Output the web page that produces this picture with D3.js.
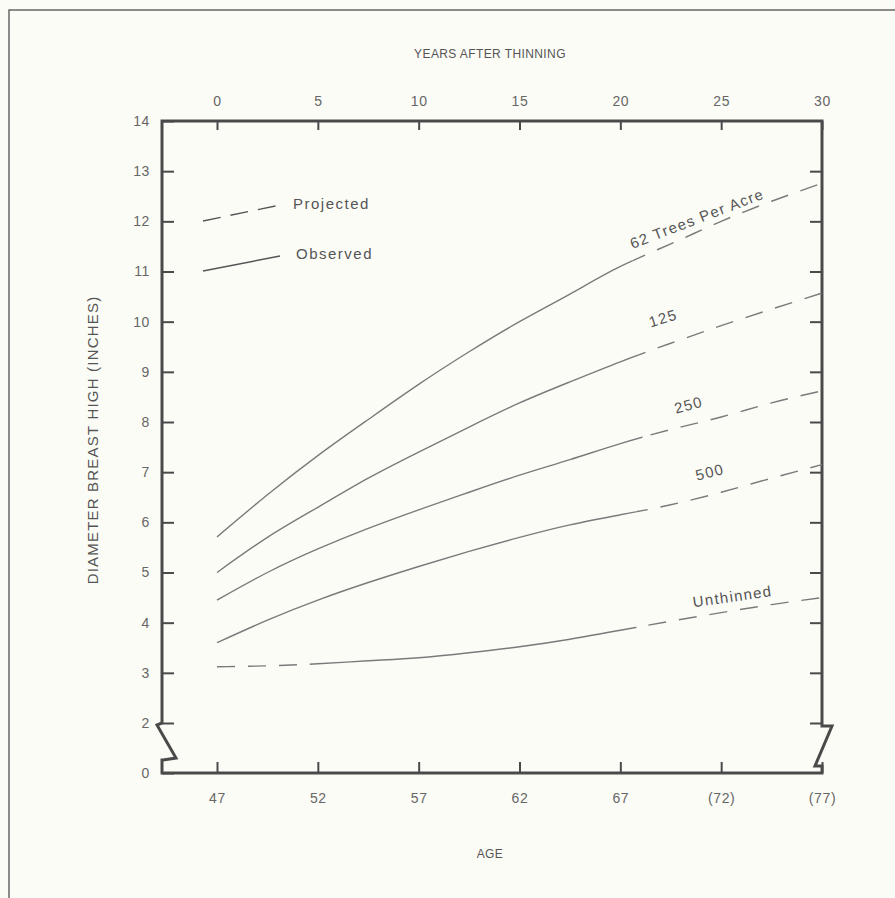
<!DOCTYPE html>
<html>
<head>
<meta charset="utf-8">
<title>Diameter breast high after thinning</title>
<style>
  body { margin: 0; background: #fcfcf7; }
  svg { display: block; }
  text { font-family: "Liberation Sans", Arial, sans-serif; fill: #555; }
  .tick line { stroke: #4a4a4a; stroke-width: 2; }
  .tick text { font-size: 14px; fill: #666; letter-spacing: 0.6px; }
</style>
</head>
<body>
<svg width="895" height="898"></svg>
<script src="https://cdn.jsdelivr.net/npm/d3@7/dist/d3.min.js"></script>
<script>
// years after thinning, read at 2.5 year steps
var years = [0, 2.5, 5, 7.5, 10, 12.5, 15, 17.5, 20, 22.5, 25, 27.5, 30];
var seriesNames = ["62 Trees Per Acre", "125", "250", "500", "Unthinned"];
var dbh62  = [5.71, 6.55, 7.33, 8.05, 8.75, 9.4, 10.0, 10.55, 11.1, 11.55, 12.0, 12.4, 12.76];
var dbh125 = [5.0, 5.7, 6.3, 6.88, 7.4, 7.9, 8.38, 8.8, 9.2, 9.57, 9.92, 10.25, 10.57];
var dbh250 = [4.45, 5.0, 5.47, 5.88, 6.25, 6.6, 6.94, 7.25, 7.57, 7.85, 8.1, 8.38, 8.62];
var dbh500 = [3.6, 4.05, 4.45, 4.8, 5.12, 5.42, 5.7, 5.95, 6.15, 6.35, 6.6, 6.88, 7.15];
var dbhUnthinned = [3.12, 3.14, 3.18, 3.24, 3.3, 3.4, 3.52, 3.67, 3.85, 4.03, 4.2, 4.36, 4.5];
// part of each curve that was observed (years), the rest is projected
var observedFrom = [0, 0, 0, 0, 4.6];
var observedTo = [20.6, 20.9, 21.1, 20.8, 20.8];

var yearTicks = [0, 5, 10, 15, 20, 25, 30];
var ageTicks = [47, 52, 57, 62, 67, 72, 77];
var ageLabels = ["47", "52", "57", "62", "67", "(72)", "(77)"];
var dbhTicks = [0, 2, 3, 4, 5, 6, 7, 8, 9, 10, 11, 12, 13, 14];

var allSeries = [dbh62, dbh125, dbh250, dbh500, dbhUnthinned];

var svg = d3.select("svg");

// outer page border (top and left only)
svg.append("path")
    .attr("d", "M9,898V10H895")
    .attr("fill", "none")
    .attr("stroke", "#666")
    .attr("stroke-width", 1.5);

var x = d3.scaleLinear().domain([0, 30]).range([217, 822]);
var age = d3.scaleLinear().domain([47, 77]).range([217, 822]);
// broken axis: 0 sits one unit below 2
var y = d3.scaleLinear().domain([0, 2, 14]).range([773, 723, 121]);

var frameL = 162, frameR = x(30), frameT = y(14), frameB = y(0);

// axes, ticks pointing inwards
svg.append("g")
    .attr("transform", "translate(" + frameL + ",0)")
    .call(d3.axisLeft(y).tickValues(dbhTicks).tickSizeInner(-12).tickSizeOuter(0).tickPadding(12))
  .select(".domain").remove();

svg.append("g")
    .attr("transform", "translate(" + frameR + ",0)")
    .call(d3.axisRight(y).tickValues(dbhTicks.slice(1, 13)).tickSizeInner(-12).tickSizeOuter(0).tickFormat(""))
  .select(".domain").remove();

svg.append("g")
    .attr("transform", "translate(0," + frameT + ")")
    .call(d3.axisTop(x).tickValues(yearTicks).tickSizeInner(-9).tickSizeOuter(0).tickPadding(15))
  .select(".domain").remove();

svg.append("g")
    .attr("transform", "translate(0," + frameB + ")")
    .call(d3.axisBottom(age).tickValues(ageTicks).tickSizeInner(-11).tickSizeOuter(0).tickPadding(20)
        .tickFormat(function(d, i) { return ageLabels[i]; }))
  .select(".domain").remove();

// frame with the axis break marks
var y2 = y(2);
var frame = d3.path();
frame.moveTo(frameL + 1, y2 + 37);
frame.lineTo(frameL, y2 + 37);
frame.lineTo(frameL, frameB);
frame.lineTo(frameR, frameB);
frame.lineTo(frameR, y2 + 43);
frame.lineTo(frameR - 7, y2 + 43);
frame.lineTo(frameR + 10, y2 + 3);
frame.lineTo(frameR, y2 + 3);
frame.lineTo(frameR, frameT);
frame.lineTo(frameL, frameT);
frame.lineTo(frameL, y2);
frame.lineTo(frameL - 5, y2 + 2);
frame.lineTo(frameL + 14, y2 + 35);
frame.lineTo(frameL + 1, y2 + 37);
svg.append("path")
    .attr("d", frame.toString())
    .attr("fill", "none")
    .attr("stroke", "#4a4a4a")
    .attr("stroke-width", 3)
    .attr("stroke-linejoin", "miter");

// clip paths for observed (solid) and projected (dashed) parts
var defs = svg.append("defs");
allSeries.forEach(function(s, i) {
  defs.append("clipPath").attr("id", "obs" + i)
    .append("rect")
      .attr("x", x(observedFrom[i])).attr("y", 0)
      .attr("width", x(observedTo[i]) - x(observedFrom[i])).attr("height", 898);
  var proj = defs.append("clipPath").attr("id", "proj" + i);
  proj.append("rect")
      .attr("x", 0).attr("y", 0)
      .attr("width", x(observedFrom[i])).attr("height", 898);
  proj.append("rect")
      .attr("x", x(observedTo[i])).attr("y", 0)
      .attr("width", 895 - x(observedTo[i])).attr("height", 898);
});

var line = d3.line()
    .x(function(d, i) { return x(years[i]); })
    .y(function(d) { return y(d); })
    .curve(d3.curveNatural);

var curves = svg.append("g")
    .attr("fill", "none")
    .attr("stroke", "#7a7a7a")
    .attr("stroke-width", 1.4);

allSeries.forEach(function(s, i) {
  curves.append("path")
      .attr("d", line(s))
      .attr("clip-path", "url(#obs" + i + ")");
  curves.append("path")
      .attr("d", line(s))
      .attr("stroke-dasharray", "18,13")
      .attr("clip-path", "url(#proj" + i + ")");
});

// curve labels: [years, dbh, rotation, anchor]
var labelSpots = [
  [20.6, 11.45, -21, "start"],
  [22.2, 9.97, -17, "middle"],
  [23.45, 8.24, -15, "middle"],
  [24.5, 6.9, -14, "middle"],
  [25.6, 4.42, -8, "middle"]
];
labelSpots.forEach(function(p, i) {
  svg.append("text")
      .attr("transform", "translate(" + x(p[0]) + "," + y(p[1]) + ") rotate(" + p[2] + ")")
      .attr("text-anchor", p[3])
      .attr("font-size", 15)
      .attr("letter-spacing", 1.3)
      .attr("fill", "#666")
      .text(seriesNames[i]);
});

// legend
var legend = svg.append("g");
legend.append("line")
    .attr("x1", 203).attr("y1", 221).attr("x2", 280).attr("y2", 205)
    .attr("stroke", "#555").attr("stroke-width", 1.4)
    .attr("stroke-dasharray", "18,10");
legend.append("text").attr("x", 293).attr("y", 209)
    .attr("font-size", 15).attr("letter-spacing", 1.5).attr("fill", "#666").text("Projected");
legend.append("line")
    .attr("x1", 203).attr("y1", 271).attr("x2", 280).attr("y2", 256)
    .attr("stroke", "#555").attr("stroke-width", 1.4);
legend.append("text").attr("x", 296).attr("y", 259)
    .attr("font-size", 15).attr("letter-spacing", 1.5).attr("fill", "#666").text("Observed");

// axis titles
svg.append("text")
    .attr("x", 490).attr("y", 58)
    .attr("text-anchor", "middle")
    .attr("font-size", 12)
    .attr("letter-spacing", 0.4)
    .attr("fill", "#333")
    .text("YEARS AFTER THINNING");
svg.append("text")
    .attr("x", 490).attr("y", 858)
    .attr("text-anchor", "middle")
    .attr("font-size", 12)
    .attr("letter-spacing", 0.4)
    .attr("fill", "#333")
    .text("AGE");
svg.append("text")
    .attr("transform", "translate(98,440) rotate(-90)")
    .attr("text-anchor", "middle")
    .attr("font-size", 15)
    .attr("letter-spacing", 1.2)
    .attr("fill", "#333")
    .text("DIAMETER BREAST HIGH (INCHES)");
</script>
</body>
</html>
